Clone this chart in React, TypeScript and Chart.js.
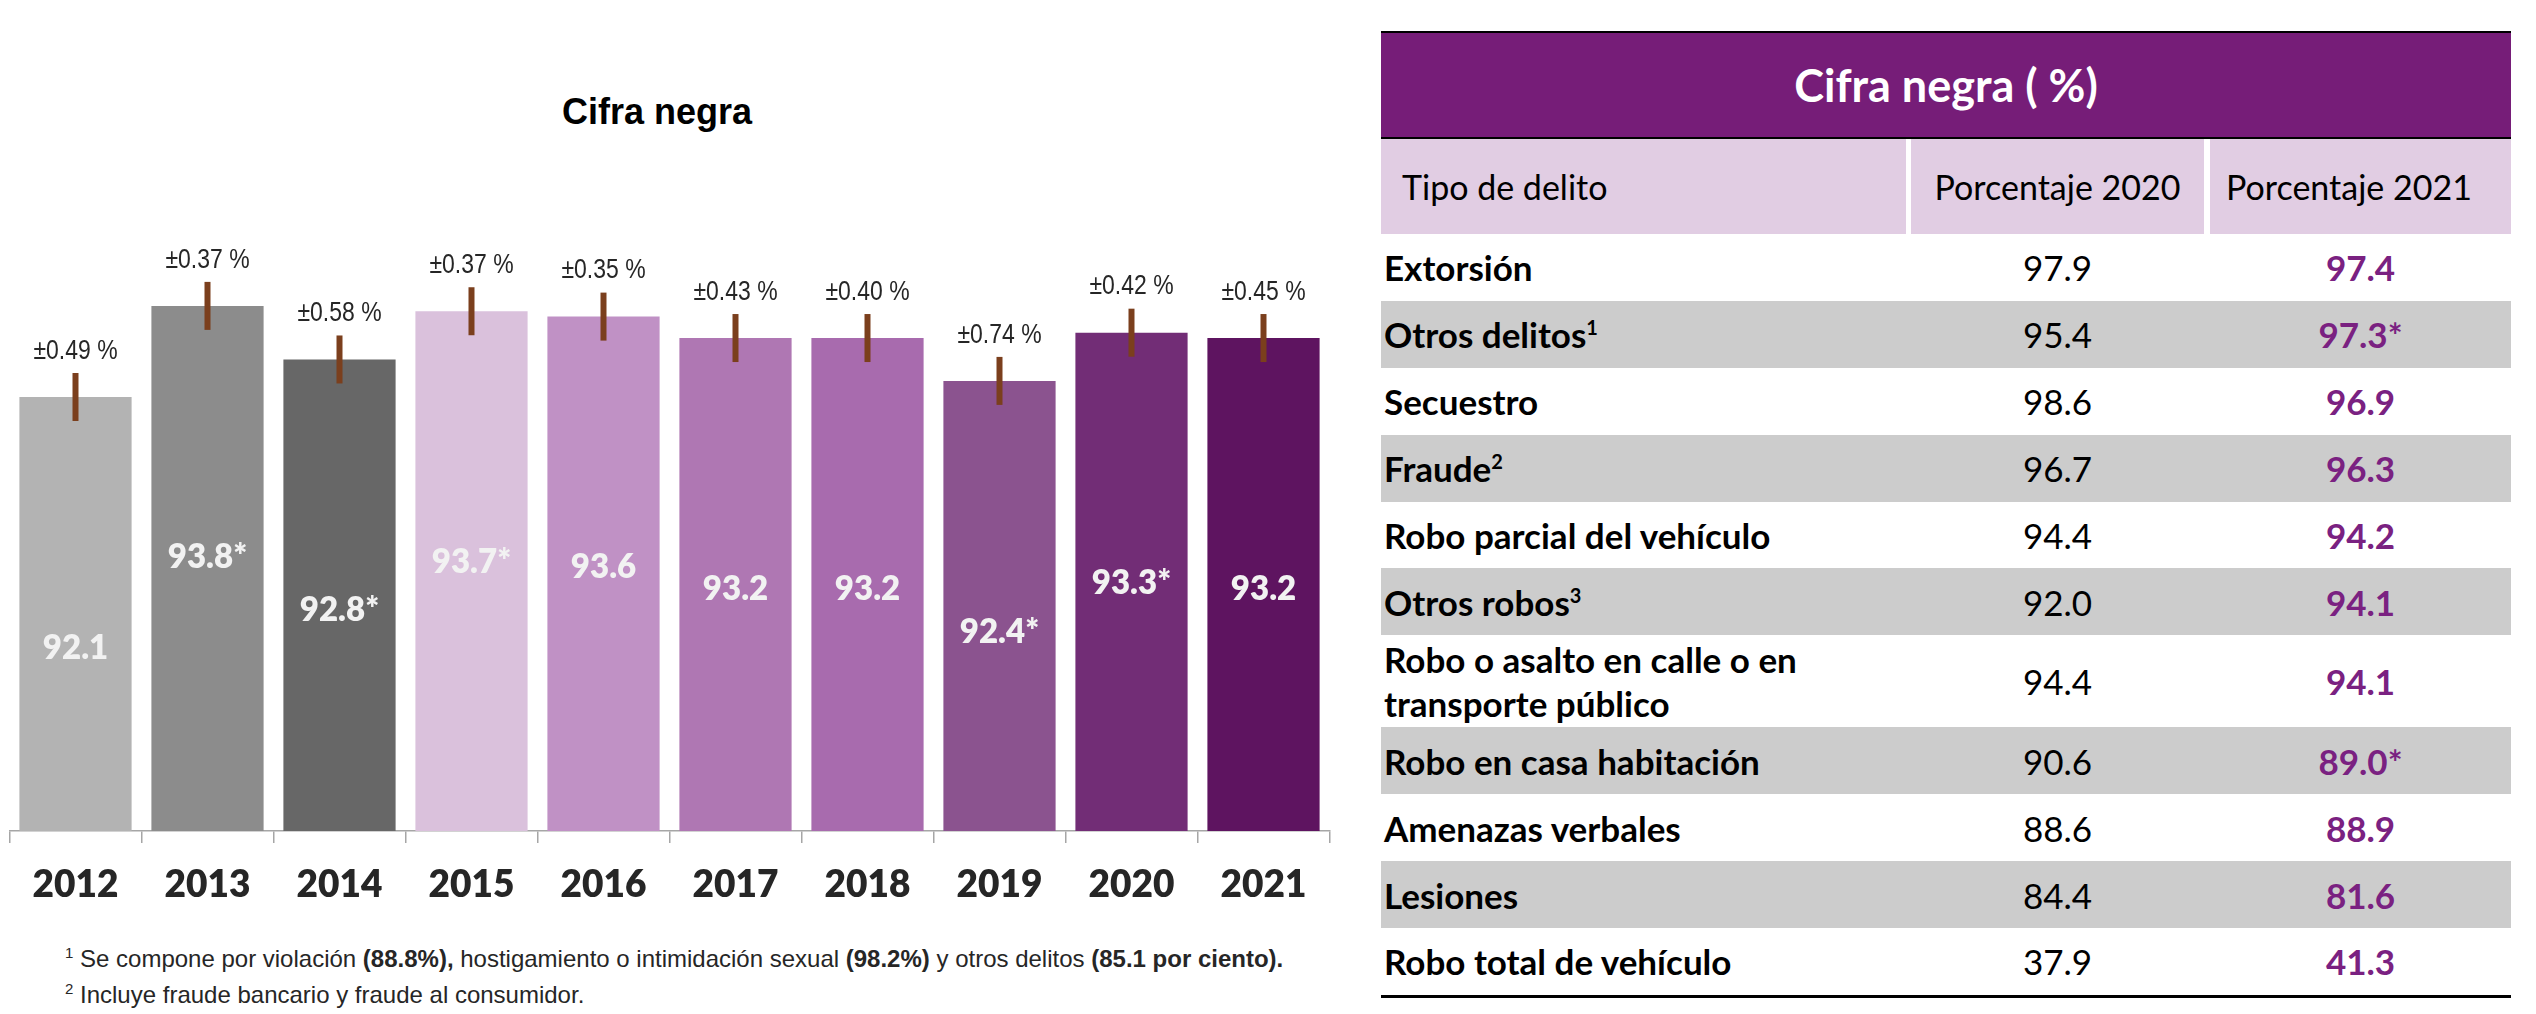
import React, { useEffect, useRef } from 'react';
import { Chart, registerables } from 'chart.js';

Chart.register(...registerables);

// ---------- Chart data ----------
const years = ['2012', '2013', '2014', '2015', '2016', '2017', '2018', '2019', '2020', '2021'];
const cifraNegra = [92.1, 93.8, 92.8, 93.7, 93.6, 93.2, 93.2, 92.4, 93.3, 93.2];
const significant = [false, true, true, true, false, false, false, true, true, false];
const marginError = [0.49, 0.37, 0.58, 0.37, 0.35, 0.43, 0.4, 0.74, 0.42, 0.45];

// ---------- Table data ----------
const tipoDelito = [
  'Extorsión',
  'Otros delitos',
  'Secuestro',
  'Fraude',
  'Robo parcial del vehículo',
  'Otros robos',
  'Robo o asalto en calle o en\ntransporte público',
  'Robo en casa habitación',
  'Amenazas verbales',
  'Lesiones',
  'Robo total de vehículo',
];
const notaDelito = ['', '1', '', '2', '', '3', '', '', '', '', ''];
const porcentaje2020 = [97.9, 95.4, 98.6, 96.7, 94.4, 92.0, 94.4, 90.6, 88.6, 84.4, 37.9];
const porcentaje2021 = [97.4, 97.3, 96.9, 96.3, 94.2, 94.1, 94.1, 89.0, 88.9, 81.6, 41.3];
const significativo2021 = [false, true, false, false, false, false, false, true, false, false, false];

// ---------- Styles ----------
const barColors = ['#B3B3B3', '#8C8C8C', '#676767', '#DAC1DC', '#C091C5', '#AF77B3', '#A86BAE', '#8B538F', '#722D76', '#5E1460'];
const ERROR_COLOR = '#7B3F1D';
const TABLE_FONT = 'Lato, "Noto Sans", sans-serif';

const barAnnotations = {
  id: 'barAnnotations',
  afterDatasetsDraw(chart: any) {
    const ctx = chart.ctx;
    const meta = chart.getDatasetMeta(0);
    meta.data.forEach((el: any, i: number) => {
      const { x, y } = el.getProps(['x', 'y'], true);
      // error bar
      ctx.save();
      ctx.strokeStyle = ERROR_COLOR;
      ctx.lineWidth = 6;
      ctx.beginPath();
      ctx.moveTo(x, y - 24);
      ctx.lineTo(x, y + 24);
      ctx.stroke();
      ctx.restore();
      // error label (narrow font)
      ctx.save();
      ctx.fillStyle = '#262626';
      ctx.font = '28px "Liberation Sans", Arial, sans-serif';
      ctx.textAlign = 'center';
      ctx.textBaseline = 'middle';
      ctx.translate(x, y - 46);
      ctx.scale(0.82, 1);
      ctx.fillText('±' + marginError[i].toFixed(2) + ' %', 0, 0);
      ctx.restore();
      // value label
      ctx.save();
      ctx.fillStyle = '#F2F2F2';
      ctx.font = '800 33px Lato, sans-serif';
      ctx.textAlign = 'center';
      ctx.textBaseline = 'middle';
      ctx.fillText(cifraNegra[i].toFixed(1) + (significant[i] ? '*' : ''), x, y + 251);
      ctx.restore();
    });
  },
};

function BarChart() {
  const ref = useRef<HTMLCanvasElement | null>(null);
  useEffect(() => {
    if (!ref.current) return;
    const chart = new Chart(ref.current, {
      type: 'bar',
      data: {
        labels: years,
        datasets: [
          {
            label: 'Cifra negra',
            data: cifraNegra,
            backgroundColor: barColors,
            borderWidth: 0,
            barPercentage: 0.85,
            categoryPercentage: 1.0,
          },
        ],
      },
      options: {
        animation: false,
        responsive: true,
        maintainAspectRatio: false,
        layout: { padding: { left: 9.5, right: 30.5, top: 188, bottom: 0 } },
        plugins: {
          legend: { display: false },
          title: { display: false },
          tooltip: { enabled: false },
        },
        scales: {
          y: { display: false, min: 84, max: 96 },
          x: {
            grid: {
              display: true,
              drawOnChartArea: false,
              drawTicks: true,
              tickLength: 12,
              color: '#A6A6A6',
              lineWidth: 1.5,
            },
            border: { display: true, color: '#A6A6A6', width: 1.5 },
            ticks: {
              color: '#262626',
              font: { family: 'Lato, sans-serif', size: 37, weight: '800' },
              padding: 20,
            },
            afterFit: (scale: any) => {
              scale.height = 99;
            },
          },
        },
      } as any,
      plugins: [barAnnotations],
    });
    return () => chart.destroy();
  }, []);
  return (
    <div style={{ position: 'absolute', left: 0, top: 0, width: 1360, height: 930 }}>
      <canvas ref={ref} />
    </div>
  );
}

function DataTable() {
  const rowH = (i: number) => (tipoDelito[i].includes('\n') ? 92 : 66.9);
  return (
    <div style={{ position: 'absolute', left: 1381, top: 31, width: 1130, fontFamily: TABLE_FONT, color: '#000' }}>
      <div
        style={{
          borderTop: '2px solid #000',
          borderBottom: '2px solid #000',
          background: '#761D78',
          height: 104,
          display: 'flex',
          alignItems: 'center',
          justifyContent: 'center',
          color: '#FFFFFF',
          fontWeight: 700,
          fontSize: 45,
        }}
      >
        Cifra negra ( %)
      </div>
      <div style={{ display: 'flex', height: 95, fontSize: 34 }}>
        <div style={{ width: 525, background: '#E1CDE3', display: 'flex', alignItems: 'center', paddingLeft: 21, boxSizing: 'border-box' }}>
          Tipo de delito
        </div>
        <div style={{ width: 5 }} />
        <div style={{ width: 293, background: '#E1CDE3', display: 'flex', alignItems: 'center', justifyContent: 'center' }}>
          Porcentaje 2020
        </div>
        <div style={{ width: 6 }} />
        <div
          style={{
            width: 301,
            background: '#E1CDE3',
            display: 'flex',
            alignItems: 'center',
            paddingLeft: 16,
            boxSizing: 'border-box',
          }}
        >
          Porcentaje 2021
        </div>
      </div>
      {tipoDelito.map((name, i) => (
        <div
          key={name}
          style={{
            display: 'flex',
            height: rowH(i),
            background: i % 2 === 1 ? '#CCCCCC' : '#FFFFFF',
            fontSize: 35,
          }}
        >
          <div
            style={{
              width: 525,
              display: 'flex',
              alignItems: 'center',
              paddingLeft: 3,
              boxSizing: 'border-box',
              fontWeight: 700,
              whiteSpace: 'pre-line',
              lineHeight: '44px',
            }}
          >
            <span>
              {name}
              {notaDelito[i] ? <sup style={{ fontSize: 20, lineHeight: 0 }}>{notaDelito[i]}</sup> : null}
            </span>
          </div>
          <div style={{ width: 5 }} />
          <div style={{ width: 293, display: 'flex', alignItems: 'center', justifyContent: 'center' }}>
            {porcentaje2020[i].toFixed(1)}
          </div>
          <div style={{ width: 6 }} />
          <div
            style={{
              width: 301,
              display: 'flex',
              alignItems: 'center',
              justifyContent: 'center',
              color: '#7A2181',
              fontWeight: 700,
            }}
          >
            {porcentaje2021[i].toFixed(1) + (significativo2021[i] ? '*' : '')}
          </div>
        </div>
      ))}
      <div style={{ borderTop: '3px solid #000' }} />
    </div>
  );
}

export default function App() {
  useEffect(() => {
    document.body.style.margin = '0';
  }, []);
  const sup: React.CSSProperties = { fontSize: 15, position: 'relative', top: -9 };
  return (
    <div style={{ position: 'absolute', left: 0, top: 0, width: 2536, height: 1014, background: '#FFFFFF', overflow: 'hidden' }}>
      <div
        style={{
          position: 'absolute',
          left: 0,
          top: 94,
          width: 1314,
          textAlign: 'center',
          fontFamily: '"Liberation Sans", Arial, sans-serif',
          fontWeight: 700,
          fontSize: 36,
          lineHeight: '36px',
          color: '#000',
        }}
      >
        Cifra negra
      </div>
      <BarChart />
      <div
        style={{
          position: 'absolute',
          left: 65,
          top: 942,
          fontFamily: '"Liberation Sans", Arial, sans-serif',
          fontSize: 24,
          lineHeight: '33px',
          color: '#262626',
          whiteSpace: 'nowrap',
        }}
      >
        <div>
          <span style={sup}>1</span> Se compone por violación <b>(88.8%),</b> hostigamiento o intimidación sexual <b>(98.2%)</b> y otros
          delitos <b>(85.1 por ciento).</b>
        </div>
        <div>
          <span style={sup}>2</span> Incluye fraude bancario y fraude al consumidor.
        </div>
      </div>
      <DataTable />
    </div>
  );
}
